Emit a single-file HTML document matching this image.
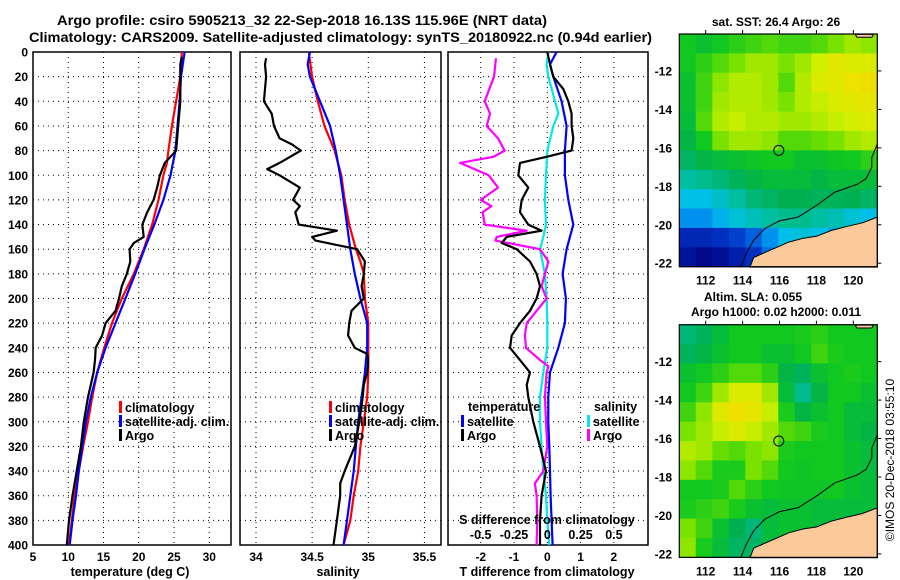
<!DOCTYPE html>
<html><head><meta charset="utf-8">
<style>
html,body{margin:0;padding:0;background:#fff;}
svg{display:block;font-family:"Liberation Sans",Arial,sans-serif;font-weight:bold;}
</style></head>
<body>
<svg id="fig" width="900" height="580" viewBox="0 0 900 580" xmlns="http://www.w3.org/2000/svg">
<rect x="0" y="0" width="900" height="580" fill="#fff"/>
<text x="57" y="25" font-size="13.5" textLength="490" lengthAdjust="spacingAndGlyphs">Argo profile: csiro 5905213_32 22-Sep-2018 16.13S 115.96E (NRT data)</text>
<text x="29" y="42" font-size="13.5" textLength="623" lengthAdjust="spacingAndGlyphs">Climatology: CARS2009. Satellite-adjusted climatology: synTS_20180922.nc (0.94d earlier)</text>
<g id="p1"></g>
<g id="p2"></g>
<g id="p3"></g>
<g id="m1"></g>
<g id="m2"></g>
<text x="0" y="0" font-size="12" font-weight="normal" text-anchor="middle" transform="translate(894,460) rotate(-90)">©IMOS 20-Dec-2018 03:55:10</text>
</svg>
<script>
// ---- profile data (depth in m) ----
const tClimDepth = [0,20,40,60,80,90,100,120,140,160,180,200,220,240,260,280,300,320,340,360,380,400];
const tClimVal   = [26.1,25.9,25.3,24.7,24.2,24.0,23.5,22.8,21.9,20.7,19.3,17.6,16.2,15.1,14.1,13.4,12.8,12.1,11.5,10.9,10.5,10.1];
const tSatDepth  = [0,20,40,60,80,100,120,140,160,180,200,220,240,260,280,300,320,340,360,380,400];
const tSatVal    = [26.5,26.0,25.8,25.5,25.2,24.5,23.5,22.2,20.8,19.5,18.1,16.7,15.3,14.1,13.2,12.5,12.0,11.5,11.1,10.6,10.2];
const tArgoDepth = [4,10,20,40,60,80,85,90,100,110,120,130,140,150,155,160,170,180,190,200,210,220,230,240,250,260,270,280,300,320,340,360,380,400];
const tArgoVal   = [26.1,25.9,25.9,25.9,25.6,25.3,24.5,23.7,23.0,22.6,22.1,21.2,20.5,20.7,19.3,18.7,18.8,18.3,17.6,17.2,16.7,15.3,14.8,13.9,13.8,13.6,13.2,12.8,12.2,11.8,11.2,10.6,10.1,9.8];

const sClimDepth = [0,20,40,60,80,100,120,140,160,170,180,200,220,240,260,280,300,320,340,360,380,400];
const sClimVal   = [34.47,34.50,34.55,34.61,34.70,34.76,34.79,34.83,34.89,34.93,34.96,34.97,35.0,35.0,35.0,34.99,34.96,34.93,34.91,34.87,34.84,34.78];
const sSatDepth  = [0,10,20,40,60,80,100,120,140,160,180,200,220,240,260,280,300,320,340,360,380,400];
const sSatVal    = [34.48,34.46,34.48,34.57,34.66,34.71,34.75,34.78,34.81,34.84,34.88,34.93,34.99,34.99,34.97,34.94,34.91,34.89,34.87,34.84,34.81,34.78];
const sArgoDepth = [5,10,20,40,50,60,70,75,80,90,95,100,110,120,125,130,140,145,150,153,160,170,180,190,200,210,220,230,240,245,250,260,270,280,300,320,340,350,360,380,400];
const sArgoVal   = [34.09,34.08,34.09,34.07,34.14,34.16,34.21,34.32,34.40,34.21,34.10,34.21,34.39,34.33,34.39,34.35,34.38,34.72,34.50,34.53,34.90,34.97,34.96,34.94,34.96,34.85,34.83,34.82,34.88,34.99,35.0,34.99,34.96,34.95,34.92,34.88,34.79,34.75,34.75,34.72,34.69];

const dtSatDepth = [0,10,20,40,60,80,100,120,140,160,180,200,220,240,260,280,300,320,340,360,380,400];
const dtSatVal   = [0.28,0.08,0.18,0.43,0.58,0.53,0.53,0.63,0.78,0.58,0.46,0.56,0.53,0.33,0.08,0.03,0.03,0.06,0.08,0.10,0.13,0.16];
const dtArgoDepth = [0,10,20,30,40,50,60,70,80,85,90,100,110,120,130,140,145,150,155,160,170,180,190,200,210,220,230,240,250,260,270,280,300,320,340,360,380,400];
const dtArgoVal   = [0,0.08,0.18,0.48,0.63,0.73,0.73,0.78,0.73,-0.02,-0.82,-0.87,-0.57,-0.77,-0.82,-0.57,-0.17,-1.22,-1.37,-0.92,-0.52,-0.32,-0.22,-0.32,-0.52,-0.82,-1.07,-1.12,-0.82,-0.52,-0.62,-0.57,-0.42,-0.22,-0.04,-0.17,-0.22,-0.22];
const dsSatDepth = [0,10,20,40,50,60,80,100,120,140,150,160,180,200,220,240,260,280,300,320,340,360,380,400];
const dsSatVal   = [0.008,-0.005,0.008,0.058,0.083,0.045,0,-0.01,-0.018,-0.01,-0.03,-0.055,-0.018,-0.005,0,0,-0.03,-0.055,-0.055,-0.043,-0.03,-0.01,0,0.015];
const dsArgoDepth = [5,20,40,50,60,70,80,85,90,100,110,120,125,130,140,145,150,153,160,170,180,190,200,210,220,230,240,250,255,260,280,300,320,340,350,360,380,400];
const dsArgoVal   = [-0.385,-0.4,-0.47,-0.43,-0.455,-0.37,-0.32,-0.405,-0.655,-0.44,-0.37,-0.5,-0.42,-0.485,-0.47,-0.155,-0.38,-0.39,-0.055,0.008,-0.018,-0.043,-0.005,-0.08,-0.155,-0.168,-0.16,-0.055,0.008,-0.005,-0.018,-0.01,0,-0.03,-0.093,-0.08,-0.075,-0.08];

const depthTicks = [0,20,40,60,80,100,120,140,160,180,200,220,240,260,280,300,320,340,360,380,400];
const tTicks = [5,10,15,20,25,30];
const sTicks = [34,34.5,35,35.5];
const dtTicks = [-2,-1,0,1,2];
const dsTicks = [-0.5,-0.25,0,0.25,0.5];
const dsTickLabels = ["-0.5","-0.25","0","0.25","0.5"];

// ---- map data (rows north->south, cols west->east) ----
const mapLonTicks = [112,114,116,118,120];
const mapLatTicks = [-12,-14,-16,-18,-20,-22];
const sstGrid = [
[.55,.52,.55,.58,.6,.62,.6,.6,.62,.66,.7,.68],
[.55,.58,.62,.66,.7,.7,.66,.7,.75,.8,.78,.78],
[.52,.6,.68,.72,.72,.7,.62,.72,.78,.8,.84,.86],
[.52,.6,.7,.72,.72,.7,.66,.72,.74,.78,.8,.82],
[.5,.62,.72,.74,.72,.72,.7,.7,.72,.74,.76,.78],
[.48,.55,.66,.7,.7,.68,.62,.62,.64,.66,.7,.72],
[.44,.48,.5,.52,.54,.55,.55,.52,.52,.54,.55,.58],
[.38,.4,.42,.45,.48,.5,.5,.5,.48,.5,.5,.5],
[.3,.3,.34,.38,.42,.44,.46,.46,.45,.45,.46,.44],
[.24,.24,.28,.32,.35,.38,.4,.4,.38,.36,.32,.3],
[.1,.1,.12,.14,.18,.24,.3,.32,.3,.26,.22,.2],
[.05,.02,.04,.08,.12,.2,.26,.3,.3,.3,.3,.3]];
const slaGrid = [
[.42,.45,.5,.55,.55,.55,.55,.56,.58,.55,.55,.55],
[.45,.48,.52,.55,.55,.52,.52,.55,.6,.56,.55,.55],
[.52,.55,.58,.62,.62,.58,.48,.45,.52,.55,.56,.55],
[.55,.6,.7,.78,.78,.7,.5,.4,.48,.55,.55,.52],
[.6,.68,.8,.85,.82,.74,.56,.48,.52,.55,.5,.5],
[.66,.7,.74,.78,.74,.7,.62,.6,.56,.55,.5,.48],
[.72,.7,.64,.62,.66,.68,.56,.55,.55,.55,.52,.5],
[.68,.62,.56,.56,.66,.62,.55,.54,.55,.55,.52,.5],
[.55,.55,.56,.62,.58,.55,.54,.54,.54,.55,.52,.5],
[.56,.58,.6,.56,.52,.5,.52,.52,.5,.5,.5,.5],
[.66,.6,.52,.46,.42,.5,.52,.52,.5,.5,.5,.5],
[.68,.56,.5,.44,.44,.5,.5,.5,.5,.5,.5,.5]];
const landLon = [114.4,114.6,115.3,115.8,116.5,117.3,118,118.8,119.6,120.5,121.3,121.3];
const landLat = [-22.2,-21.7,-21.4,-21.2,-20.9,-20.7,-20.6,-20.3,-20.1,-19.9,-19.6,-22.2];
const land2Lon = [120.1,120.2,121.0,121.1];
const land2Lat = [-10.1,-10.25,-10.25,-10.1];
const isoLon = [113.9,114.2,114.6,115.2,116,117,118,119,120.2,120.7,121,121,121.3];
const isoLat = [-22.2,-21.5,-20.8,-20.2,-19.8,-19.6,-19,-18.3,-17.9,-17.6,-17,-16.5,-15.8];
const floatLon = 115.96, floatLat = -16.13;

const NS = "http://www.w3.org/2000/svg";
function mk(parent, tag, attrs){ const e=document.createElementNS(NS,tag); for(const k in attrs) e.setAttribute(k,attrs[k]); parent.appendChild(e); return e; }

const TOP=52, BOT=545;
const yD = d => TOP + d*(BOT-TOP)/400;

function panel(g, x0, x1, xs, xticks, xlabels, name){
  // grid
  depthTicks.forEach(d=>{
    const l=mk(g,'line',{x1:x0,x2:x1,y1:yD(d),y2:yD(d),stroke:'#000','stroke-width':1,'stroke-dasharray':'1,4'});
    
    
  });
  xticks.forEach((t,i)=>{
    const x=xs(t);
    const l=mk(g,'line',{x1:x,x2:x,y1:TOP,y2:BOT,stroke:'#000','stroke-width':1,'stroke-dasharray':'1,4'});
    
    
    const tx=mk(g,'text',{x:x,y:BOT+16,'font-size':12,'text-anchor':'middle'});
    tx.textContent=xlabels[i];
    
    
  });
  const r=mk(g,'rect',{x:x0,y:TOP,width:x1-x0,height:BOT-TOP,fill:'none',stroke:'#000','stroke-width':1.5});
  
  
}
function line(g, xs, depths, vals, color, name){
  const pts = depths.map((d,i)=>xs(vals[i]).toFixed(1)+','+yD(d).toFixed(1)).join(' ');
  const p=mk(g,'polyline',{points:pts,fill:'none',stroke:color,'stroke-width':2.2,'stroke-linejoin':'round'});
  
  
}
function legend(g, x, y, color, label, name){
  const r=mk(g,'rect',{x:x,y:y-6,width:3,height:12,fill:color});
  
  
  const t=mk(g,'text',{x:x+6,y:y+5,'font-size':12.5});
  t.textContent=label;
  
  
}

// Panel 1
const g1=document.getElementById('p1');
const xT = t => 33 + (t-5)*7.05;
panel(g1,33,231,xT,tTicks,tTicks.map(String),'temperature');
depthTicks.forEach(d=>{
  const t=mk(g1,'text',{x:28,y:yD(d)+4.5,'font-size':12,'text-anchor':'end'});
  t.textContent=String(d);
  
  
});
line(g1,xT,tClimDepth,tClimVal,'#f00','temperature-climatology-line');
line(g1,xT,tSatDepth,tSatVal,'#00f','temperature-satellite-line');
line(g1,xT,tArgoDepth,tArgoVal,'#000','temperature-argo-line');
legend(g1,119,407,'#f00','climatology','legend-climatology');
legend(g1,119,421,'#00f','satellite-adj. clim.','legend-satellite');
legend(g1,119,435,'#000','Argo','legend-argo');
{const t=mk(g1,'text',{x:130,y:576,'font-size':12.5,'text-anchor':'middle'}); t.textContent='temperature (deg C)';

}

// Panel 2
const g2=document.getElementById('p2');
const xS = s => 256 + (s-34)*112.3;
panel(g2,240,441,xS,sTicks,sTicks.map(String),'salinity');
line(g2,xS,sClimDepth,sClimVal,'#f00','salinity-climatology-line');
line(g2,xS,sSatDepth,sSatVal,'#00f','salinity-satellite-line');
line(g2,xS,sArgoDepth,sArgoVal,'#000','salinity-argo-line');
legend(g2,329,407,'#f00','climatology','legend-sal-climatology');
legend(g2,329,421,'#00f','satellite-adj. clim.','legend-sal-satellite');
legend(g2,329,435,'#000','Argo','legend-sal-argo');
{const t=mk(g2,'text',{x:338,y:576,'font-size':12.5,'text-anchor':'middle'}); t.textContent='salinity';

}

// Panel 3
const g3=document.getElementById('p3');
const xDT = t => 547.3 + t*33.3;
const xDS = s => 547.3 + s*4*33.3;
panel(g3,448,648,xDT,dtTicks,dtTicks.map(String),'difference');
line(g3,xDS,dsSatDepth,dsSatVal,'#00e8e8','salinity-diff-satellite-line');
line(g3,xDS,dsArgoDepth,dsArgoVal,'#f0f','salinity-diff-argo-line');
line(g3,xDT,dtSatDepth,dtSatVal,'#00f','temperature-diff-satellite-line');
line(g3,xDT,dtArgoDepth,dtArgoVal,'#000','temperature-diff-argo-line');
{const t=mk(g3,'text',{x:468,y:411,'font-size':12.5}); t.textContent='temperature';

}
{const t=mk(g3,'text',{x:594,y:411,'font-size':12.5}); t.textContent='salinity';

}
legend(g3,461,421,'#00f','satellite','legend-dt-satellite');
legend(g3,461,435,'#000','Argo','legend-dt-argo');
legend(g3,587,421,'#00e8e8','satellite','legend-ds-satellite');
legend(g3,587,435,'#f0f','Argo','legend-ds-argo');
{const t=mk(g3,'text',{x:547,y:524,'font-size':12.5,'text-anchor':'middle'}); t.textContent='S difference from climatology';

}
dsTicks.forEach((s,i)=>{
  const t=mk(g3,'text',{x:xDS(s),y:539,'font-size':12.5,'text-anchor':'middle'});
  t.textContent=dsTickLabels[i];
  
  
});
{const t=mk(g3,'text',{x:547,y:576,'font-size':12.5,'text-anchor':'middle'}); t.textContent='T difference from climatology';

}

// ---- maps ----
const cmStops=[[0,[0,0,128]],[.12,[0,48,192]],[.22,[0,128,240]],[.3,[0,192,232]],[.38,[0,190,160]],[.46,[0,176,80]],[.55,[16,200,32]],[.65,[112,224,0]],[.75,[208,240,0]],[.85,[240,224,0]],[.95,[240,192,0]],[1,[240,180,0]]];
function cmap(v){
  for(let i=1;i<cmStops.length;i++){ if(v<=cmStops[i][0]){ const a=cmStops[i-1],b=cmStops[i]; const f=(v-a[0])/(b[0]-a[0]); const c=a[1].map((x,k)=>Math.round(x+(b[1][k]-x)*f)); return 'rgb('+c.join(',')+')'; } }
  return 'rgb(240,180,0)';
}
const LON0=110.57, LON1=121.3, LAT0=-10.08, LAT1=-22.18;
function drawMap(g, top, grid, title, name){
  const bottom = top + (LAT0-LAT1)*19.23;
  const left=679.3, right=877.3;
  const xL = lon => left + (lon-LON0)*(right-left)/(LON1-LON0);
  const yL = lat => top + (LAT0-lat)*19.23;
  const nr=grid.length, nc=grid[0].length;
  const cw=(right-left)/nc, ch=(bottom-top)/nr;
  grid.forEach((row,r)=>row.forEach((v,c)=>{
    const e=mk(g,'rect',{x:(left+c*cw).toFixed(2),y:(top+r*ch).toFixed(2),width:(cw+0.6).toFixed(2),height:(ch+0.6).toFixed(2),fill:cmap(v)});
    
    
  }));
  const poly=(lons,lats)=>lons.map((lo,i)=>xL(lo).toFixed(1)+','+yL(lats[i]).toFixed(1)).join(' ');
  const l1=mk(g,'polygon',{points:poly(landLon,landLat),fill:'#fbc99a',stroke:'#000','stroke-width':1});
  
  
  const l2=mk(g,'polygon',{points:poly(land2Lon,land2Lat),fill:'#fbc99a',stroke:'#000','stroke-width':1});
  
  
  const iso=mk(g,'polyline',{points:poly(isoLon,isoLat),fill:'none',stroke:'#000','stroke-width':1});
  
  
  const ci=mk(g,'circle',{cx:xL(floatLon),cy:yL(floatLat),r:5,fill:'none',stroke:'#000','stroke-width':1});
  
  
  const fr=mk(g,'rect',{x:left,y:top,width:right-left,height:bottom-top,fill:'none',stroke:'#000','stroke-width':1.2});
  
  
  mapLonTicks.forEach(lo=>{
    const t=mk(g,'text',{x:xL(lo),y:bottom+18,'font-size':12,'text-anchor':'middle'});
    t.textContent=String(lo);
    
    
    mk(g,'line',{x1:xL(lo),x2:xL(lo),y1:top,y2:top-4,stroke:'#000'});
  });
  mapLatTicks.forEach(la=>{
    const t=mk(g,'text',{x:672,y:yL(la)+4.5,'font-size':12,'text-anchor':'end'});
    t.textContent=String(la);
    
    
    mk(g,'line',{x1:right,x2:right+4,y1:yL(la),y2:yL(la),stroke:'#000'});
  });
  title.forEach((tt,i)=>{
    const t=mk(g,'text',{x:tt[1],y:tt[2],'font-size':12,'text-anchor':'middle'});
    t.textContent=tt[0];
    
    
  });
}
drawMap(document.getElementById('m1'),34,sstGrid,[['sat. SST: 26.4 Argo: 26',776,26]],'sst-map');
drawMap(document.getElementById('m2'),324.7,slaGrid,[['Altim. SLA: 0.055',753,301],['Argo h1000: 0.02 h2000: 0.011',776,316]],'sla-map');
</script>
</body></html>
